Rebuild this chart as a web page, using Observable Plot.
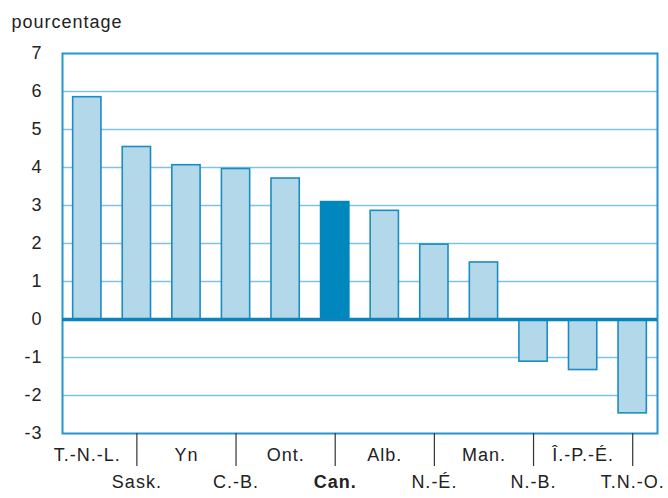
<!DOCTYPE html>
<html>
<head>
<meta charset="utf-8">
<script src="https://cdn.jsdelivr.net/npm/d3@7"></script>
<script src="https://cdn.jsdelivr.net/npm/@observablehq/plot@0.6"></script>
<style>
  html, body { margin: 0; padding: 0; background: #fff; }
</style>
</head>
<body>
<div id="chart"></div>
<script>
const categories = ["T.-N.-L.", "Sask.", "Yn", "C.-B.", "Ont.", "Can.", "Alb.", "N.-É.", "Man.", "N.-B.", "Î.-P.-É.", "T.N.-O."];
const values = [5.85, 4.54, 4.06, 3.96, 3.71, 3.09, 2.86, 1.97, 1.5, -1.11, -1.33, -2.47];
const highlight = "Can.";
const yTicks = [-3, -2, -1, 0, 1, 2, 3, 4, 5, 6, 7];
const yLabel = "pourcentage";

const data = categories.map((c, i) => ({cat: c, value: values[i], idx: i}));
const topRow = data.filter(d => d.idx % 2 === 0);
const bottomRow = data.filter(d => d.idx % 2 === 1);

const font = "'Liberation Sans Narrow', 'Liberation Sans', Arial, sans-serif";

const chart = Plot.plot({
  width: 668,
  height: 498,
  marginTop: 53,
  marginLeft: 62,
  marginRight: 11,
  marginBottom: 65,
  style: {fontFamily: font, fontStretch: "condensed", fontSize: "18px", color: "#222", letterSpacing: "1px", background: "#fff"},
  x: {type: "band", domain: categories, paddingInner: 0.43, paddingOuter: 0.215, align: 0.5, round: false, label: null},
  y: {domain: [-3, 7], label: null},
  marks: [
    Plot.gridY(yTicks.filter(t => t > -3 && t < 7 && t !== 0), {stroke: "#7fc2e2", strokeOpacity: 1, strokeWidth: 1.5}),
    Plot.barY(data, {x: "cat", y: "value", fill: d => d.cat === highlight ? "#0087bd" : "#b2d8ea", stroke: d => d.cat === highlight ? "#0087bd" : "#1a8dc3", strokeWidth: 1.6}),
    Plot.frame({stroke: "#2596cf", strokeWidth: 2}),
    Plot.ruleY([0], {stroke: "#0a84bb", strokeWidth: 3.5}),
    Plot.axisY(yTicks, {tickSize: 0, tickPadding: 20, fontSize: 18, fill: "#222", tickFormat: d => String(d), label: null}),
    Plot.axisX(bottomRow.map(d => d.cat), {tickSize: 33, tickFormat: () => "", stroke: "#333", strokeWidth: 1.2, label: null}),
    Plot.text(topRow, {x: "cat", text: "cat", frameAnchor: "bottom", dy: 27, fontSize: 18, fill: "#222"}),
    Plot.text(bottomRow.filter(d => d.cat !== highlight), {x: "cat", text: "cat", frameAnchor: "bottom", dy: 54, fontSize: 18, fill: "#222"}),
    Plot.text(bottomRow.filter(d => d.cat === highlight), {x: "cat", text: "cat", frameAnchor: "bottom", dy: 54, fontSize: 18, fill: "#222", fontWeight: "bold"}),
    Plot.text([yLabel], {text: d => d, frameAnchor: "top-left", dx: -51, dy: -38, textAnchor: "start", fontSize: 18, fill: "#222"})
  ]
});
document.getElementById("chart").appendChild(chart);
</script>
</body>
</html>
